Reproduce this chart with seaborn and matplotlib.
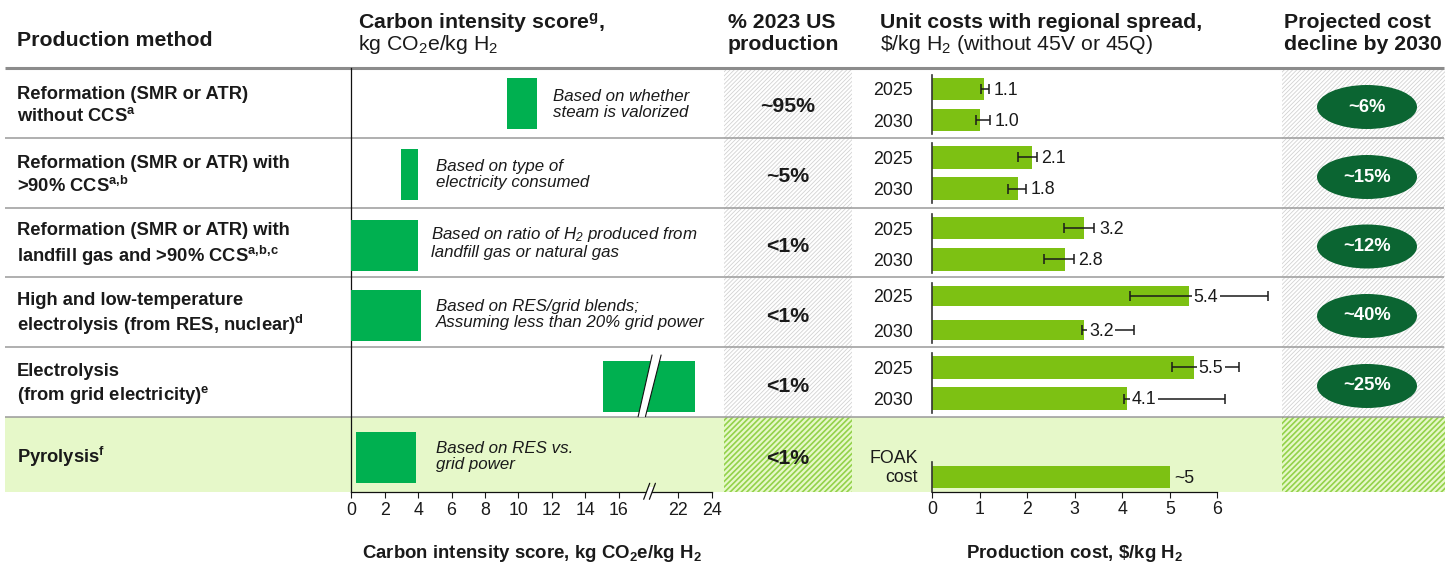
import numpy as np
import pandas as pd
import seaborn as sns
import matplotlib.pyplot as plt
from matplotlib.patches import Rectangle, Ellipse, Polygon

# ---------------- data ----------------
methods = [
    "Reformation (SMR or ATR)\nwithout CCS$^{a}$",
    "Reformation (SMR or ATR) with\n>90% CCS$^{a,\\!b}$",
    "Reformation (SMR or ATR) with\nlandfill gas and >90% CCS$^{a,\\!b,\\!c}$",
    "High and low-temperature\nelectrolysis (from RES, nuclear)$^{d}$",
    "Electrolysis\n(from grid electricity)$^{e}$",
    "Pyrolysis$^{f}$",
]
ci_low = [9.3, 3.0, 0.0, 0.0, 15.1, 0.3]
ci_high = [11.1, 4.0, 4.0, 4.2, 23.0, 3.9]
ci_notes = [
    "Based on whether\nsteam is valorized",
    "Based on type of\nelectricity consumed",
    "Based on ratio of H$_2$ produced from\nlandfill gas or natural gas",
    "Based on RES/grid blends;\nAssuming less than 20% grid power",
    "",
    "Based on RES vs.\ngrid power",
]
ci_ticks = [0, 2, 4, 6, 8, 10, 12, 14, 16, 22, 24]
ci_break = 19

us_share = ["~95%", "~5%", "<1%", "<1%", "<1%", "<1%"]

years = ["2025", "2030"]
cost_2025 = [1.1, 2.1, 3.2, 5.4, 5.5]
cost_2030 = [1.0, 1.8, 2.8, 3.2, 4.1]
lo_2025 = [1.02, 1.80, 2.78, 4.17, 5.04]
hi_2025 = [1.20, 2.20, 3.41, 7.07, 6.45]
lo_2030 = [0.92, 1.59, 2.36, 3.16, 4.04]
hi_2030 = [1.22, 1.98, 2.98, 4.24, 6.16]
foak_label = "FOAK\ncost"
foak_cost = 5.0
foak_text = "~5"
cost_ticks = [0, 1, 2, 3, 4, 5, 6]

decline = ["~6%", "~15%", "~12%", "~40%", "~25%", ""]

# ---------------- style ----------------
sns.set_style("white")
plt.rcParams["font.family"] = ["Liberation Sans", "DejaVu Sans"]
plt.rcParams["mathtext.fontset"] = "custom"
plt.rcParams["mathtext.rm"] = "Liberation Sans"
plt.rcParams["mathtext.it"] = "Liberation Sans:italic"
plt.rcParams["mathtext.bf"] = "Liberation Sans:bold"
plt.rcParams["mathtext.default"] = "regular"

TEXT = "#1a1a1a"
CI_GREEN = "#00B050"
COST_GREEN = "#7DC113"
PYRO_BG = "#E6F8C9"
ELLIPSE_C = "#0B6532"
LINE_GRAY = "#9a9a9a"
HATCH_GRAY = "#d2d2d2"
HATCH_GREEN = "#93D24A"
FS_SMALL = 12.8

# ---------------- layout (pixels) ----------------
W, H = 1456, 565
ROW_EDGES = [68, 138, 208, 277, 347, 417, 492]
ROW_C = [(a + b) / 2 for a, b in zip(ROW_EDGES[:-1], ROW_EDGES[1:])]
CI_X0, CI_X1 = 351.3, 711.7
CI_BAR_Y = [103.4, 174.4, 245.4, 315.4, 386.2, 457.4]
NOTE_X = [553, 436, 431, 436, 0, 436]
NOTE_Y = [104.7, 174.5, 242.7, 314.5, 0, 456.7]
COST_X0, COST_X1 = 932, 1217.3
COST_AX = [(75, 134), (143, 202.7), (214, 273.3), (283.3, 342.7), (353.3, 412.7), (461.7, 491.7)]
COST_W = [0.73, 0.73, 0.73, 0.58, 0.73]
PCT_COL = (724, 852)
DEC_COL = (1282, 1444.7)

fig = plt.figure(figsize=(W / 100, H / 100), dpi=100)


def fax(x0, y0, x1, y1, **kw):
    return fig.add_axes([x0 / W, 1 - y1 / H, (x1 - x0) / W, (y1 - y0) / H], **kw)


bg = fax(0, 0, W, H)
bg.set_xlim(0, W)
bg.set_ylim(H, 0)
bg.axis("off")

# pyrolysis band
bg.add_patch(Rectangle((5, ROW_EDGES[5]), 1439, ROW_EDGES[6] - ROW_EDGES[5], fc=PYRO_BG, ec="none", zorder=0))

# hatched columns
for (x0, x1) in (PCT_COL, DEC_COL):
    with plt.rc_context({"hatch.linewidth": 0.6}):
        bg.add_patch(Rectangle((x0, 70), x1 - x0, ROW_EDGES[5] - 70, fc="white", ec=HATCH_GRAY,
                               lw=0, hatch="////////", zorder=1))
    with plt.rc_context({"hatch.linewidth": 1.2}):
        bg.add_patch(Rectangle((x0, ROW_EDGES[5]), x1 - x0, ROW_EDGES[6] - ROW_EDGES[5], fc=PYRO_BG,
                               ec=HATCH_GREEN, lw=0, hatch="//////", zorder=1))

# grid lines
bg.plot([5, 1444], [ROW_EDGES[0]] * 2, color="#8c8c8c", lw=2.2, zorder=3, solid_capstyle="butt")
for y in ROW_EDGES[1:6]:
    bg.plot([5, 1444], [y, y], color=LINE_GRAY, lw=1.1, zorder=3, solid_capstyle="butt")

# headers
hb = dict(fontsize=15.3, fontweight="bold", color=TEXT, va="baseline", zorder=5)
hr = dict(fontsize=15.3, color=TEXT, va="baseline", zorder=5)
L1, L2 = 28.5, 50.5
bg.text(17, 45.7, "Production method", **hb)
bg.text(358, L1, "Carbon intensity score$^{g}$,", **hb)
bg.text(358, L2, "kg CO$_2$e/kg H$_2$", **hr)
bg.text(728, L1, "% 2023 US", **hb)
bg.text(728, L2, "production", **hb)
bg.text(880, L1, "Unit costs with regional spread,", **hb)
bg.text(880, L2, r"\$/kg H$_2$ (without 45V or 45Q)", **hr)
bg.text(1284, L1, "Projected cost", **hb)
bg.text(1284, L2, "decline by 2030", **hb)

# row labels, shares, declines
for i, rc in enumerate(ROW_C):
    bg.text(17, rc + 2.5, methods[i], fontsize=13.2, fontweight="bold", color=TEXT,
            va="center", ha="left", linespacing=1.25, zorder=5)
    bg.text((PCT_COL[0] + PCT_COL[1]) / 2, rc + 4, us_share[i], fontsize=15.3, fontweight="bold",
            color=TEXT, ha="center", va="center", zorder=5)
    if decline[i]:
        bg.add_patch(Ellipse((1367, rc + 4), 100, 44, fc=ELLIPSE_C, ec="none", zorder=4))
        bg.text(1367, rc + 4, decline[i], fontsize=13.2, fontweight="bold", color="white",
                ha="center", va="center", zorder=5)

# ---------------- carbon intensity panel ----------------
def fwd(x):
    x = np.asarray(x, dtype=float)
    return np.where(x <= 16, x, np.where(x >= 22, x - 2.42, 16 + (x - 16) * 3.58 / 6))


def inv(y):
    y = np.asarray(y, dtype=float)
    return np.where(y <= 16, y, np.where(y >= 19.58, y + 2.42, 16 + (y - 16) * 6 / 3.58))


ax_ci = fax(CI_X0, ROW_EDGES[0], CI_X1, ROW_EDGES[6])
ax_ci.set_facecolor("none")
ax_ci.set_xscale("function", functions=(fwd, inv))
ax_ci.set_xlim(0, 24)
ax_ci.set_ylim(ROW_EDGES[6], ROW_EDGES[0])
lows = np.array(ci_low)
highs = np.array(ci_high)
ax_ci.barh(CI_BAR_Y, highs - lows, left=lows, height=51, color=CI_GREEN, lw=0, zorder=3)
ax_ci.set_xticks(ci_ticks)
ax_ci.set_xticklabels([str(t) for t in ci_ticks])
ax_ci.set_yticks([])
ax_ci.tick_params(axis="x", bottom=True, length=4, width=0.8, direction="out", labelsize=FS_SMALL,
                  pad=3, colors=TEXT)
for s in ("top", "right"):
    ax_ci.spines[s].set_visible(False)
for s in ("left", "bottom"):
    ax_ci.spines[s].set_color("#111111")
    ax_ci.spines[s].set_linewidth(0.9)

for i, note in enumerate(ci_notes):
    if note:
        bg.text(NOTE_X[i], NOTE_Y[i], note, fontsize=12.2, style="italic", color=TEXT,
                va="center", ha="left", linespacing=1.1, zorder=5)

bg.text((CI_X0 + CI_X1) / 2, 553, "Carbon intensity score, kg CO$_2$e/kg H$_2$", fontsize=13.4,
        fontweight="bold", color=TEXT, ha="center", va="center")

# ---------------- cost panel ----------------
for i in range(5):
    y0, y1 = COST_AX[i]
    ax = fax(COST_X0, y0, COST_X1, y1)
    ax.set_facecolor("none")
    vals = np.array([cost_2025[i], cost_2030[i]])
    df = pd.DataFrame({"year": years, "cost": vals})
    sns.barplot(data=df, x="cost", y="year", orient="h", color=COST_GREEN, saturation=1,
                width=COST_W[i], linewidth=0, ax=ax)
    lo = np.array([lo_2025[i], lo_2030[i]])
    hi = np.array([hi_2025[i], hi_2030[i]])
    eb = ax.errorbar(vals, [0, 1], xerr=[vals - lo, hi - vals], fmt="none", ecolor="#1a1a1a",
                     elinewidth=1.1, capsize=3.6, capthick=1.1, zorder=4)
    for art in eb.get_children():
        art.set_clip_on(False)
    for j, v in enumerate(vals):
        x = hi[j] + 0.1 if hi[j] - v < 0.4 else v + 0.1
        ax.text(x, j + 0.04, f"{v:.1f}", fontsize=FS_SMALL, color=TEXT, ha="left", va="center", zorder=6,
                bbox=dict(fc="white", ec="none", pad=1.2))
    ax.set_xlim(0, 6)
    ax.set_xlabel("")
    ax.set_ylabel("")
    ax.set_xticks([])
    ax.tick_params(axis="y", left=False, labelsize=FS_SMALL, pad=10, colors=TEXT)
    for s in ("top", "right", "bottom"):
        ax.spines[s].set_visible(False)
    ax.spines["left"].set_color("#333333")
    ax.spines["left"].set_linewidth(1.2)

y0, y1 = COST_AX[5]
ax6 = fax(COST_X0, y0, COST_X1, y1)
ax6.set_facecolor("none")
sns.barplot(x=[foak_cost], y=[foak_label], orient="h", color=COST_GREEN, saturation=1, width=0.72,
            linewidth=0, ax=ax6)
ax6.text(foak_cost + 0.1, 0.05, foak_text, fontsize=FS_SMALL, color=TEXT, ha="left", va="center")
ax6.set_xlim(0, 6)
ax6.set_yticks([])
ax6.set_xlabel("")
ax6.set_ylabel("")
ax6.set_xticks(cost_ticks)
ax6.set_xticklabels([str(t) for t in cost_ticks])
ax6.tick_params(axis="x", bottom=True, length=4, width=0.8, direction="out", labelsize=FS_SMALL, pad=3,
                colors=TEXT)
for s in ("top", "right"):
    ax6.spines[s].set_visible(False)
ax6.spines["left"].set_color("#333333")
ax6.spines["left"].set_linewidth(1.2)
ax6.spines["bottom"].set_color("#111111")
ax6.spines["bottom"].set_linewidth(0.9)
bg.text(918, 468, foak_label, fontsize=FS_SMALL, color=TEXT, ha="right", va="center", linespacing=1.2)

bg.text((COST_X0 + COST_X1) / 2, 553, r"Production cost, \$/kg H$_2$", fontsize=13.4,
        fontweight="bold", color=TEXT, ha="center", va="center")

# ---------------- break marks (overlay) ----------------
ov = fax(0, 0, W, H, zorder=10)
ov.set_xlim(0, W)
ov.set_ylim(H, 0)
ov.axis("off")
ov.patch.set_alpha(0)
xb = ax_ci.transData.transform((ci_break, 300))[0]
top, bot = 355, 416.7
ov.add_patch(Polygon([(xb + 3.7, top), (xb + 12.7, top), (xb - 3, bot), (xb - 10.3, bot)],
                     closed=True, fc="white", ec="none"))
ov.plot([xb + 3.7, xb - 10.3], [top, bot], color="#111111", lw=0.8)
ov.plot([xb + 12.7, xb - 3], [top, bot], color="#111111", lw=0.8)


def lx(x0, y):
    return x0 + (499.3 - y) * 6 / 16


ov.add_patch(Polygon([(lx(xb - 4.7, 497), 497), (lx(xb + 1, 497), 497), (lx(xb + 1, 487), 487),
                      (lx(xb - 4.7, 487), 487)], closed=True, fc="white", ec="none"))
ov.plot([xb - 4.7, xb + 1.3], [499.3, 483.3], color="#111111", lw=0.9)
ov.plot([xb + 1, xb + 7], [499.3, 483.3], color="#111111", lw=0.9)

fig.savefig("out.png", dpi=100)
